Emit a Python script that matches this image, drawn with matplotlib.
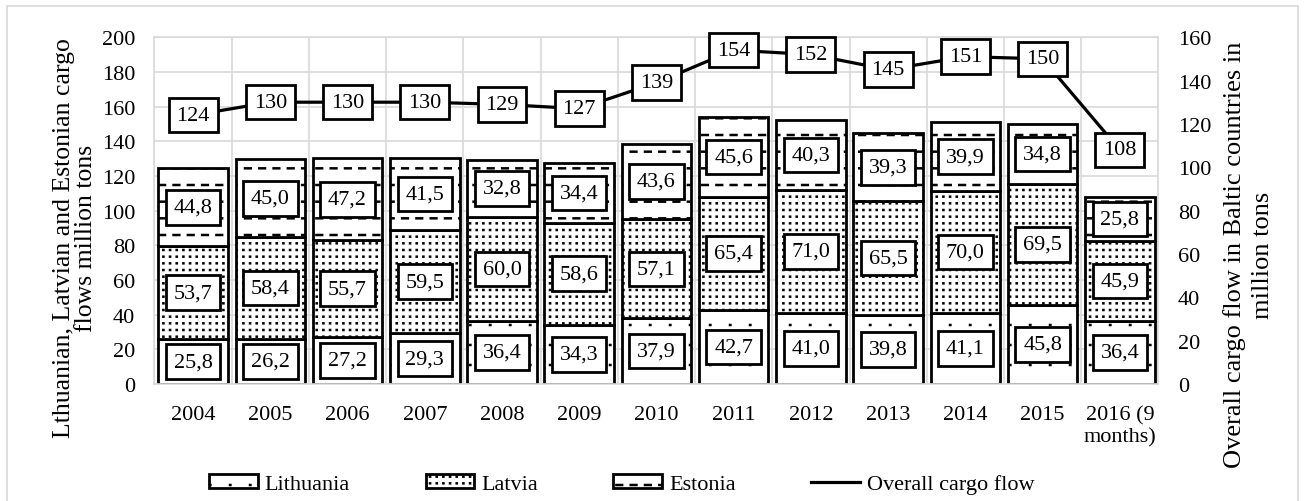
import numpy as np
import matplotlib
matplotlib.use('Agg')
import matplotlib.pyplot as plt
from matplotlib import hatch as mhatch
from matplotlib.path import Path
from matplotlib.patches import Rectangle

years = ['2004', '2005', '2006', '2007', '2008', '2009', '2010',
         '2011', '2012', '2013', '2014', '2015', '2016 (9\nmonths)']
lithuania = [25.8, 26.2, 27.2, 29.3, 36.4, 34.3, 37.9, 42.7, 41.0, 39.8, 41.1, 45.8, 36.4]
latvia = [53.7, 58.4, 55.7, 59.5, 60.0, 58.6, 57.1, 65.4, 71.0, 65.5, 70.0, 69.5, 45.9]
estonia = [44.8, 45.0, 47.2, 41.5, 32.8, 34.4, 43.6, 45.6, 40.3, 39.3, 39.9, 34.8, 25.8]
overall = [124, 130, 130, 130, 129, 127, 139, 154, 152, 145, 151, 150, 108]


# Excel-like fills: short strokes on a grid (one tile = one inch)
class GridHatch(mhatch.HatchPatternBase):
    char = None
    rows = cols = 1
    span = (0.5, 0.52)
    phase = 0.5

    def __init__(self, hatch, density):
        self.num_vertices = 2 * self.rows * self.cols if self.char in hatch else 0

    def set_vertices_and_codes(self, vertices, codes):
        r, c = np.meshgrid(np.arange(self.rows), np.arange(self.cols), indexing='ij')
        y = (r.ravel() + self.phase) / self.rows
        c = c.ravel()
        vertices[0::2, 0] = (c + self.span[0]) / self.cols
        vertices[1::2, 0] = (c + self.span[1]) / self.cols
        vertices[0::2, 1] = y
        vertices[1::2, 1] = y
        codes[0::2] = Path.MOVETO
        codes[1::2] = Path.LINETO


class SparseDots(GridHatch):
    char, rows, cols, phase = 'o', 5, 5, 0.75


class DenseDots(GridHatch):
    char, rows, cols = 'O', 15, 15


class Dashes(GridHatch):
    char, rows, cols, span, phase = '*', 6, 7, (0.15, 0.55), 0.9


mhatch._hatch_types[:] = [SparseDots, DenseDots, Dashes]

plt.rcParams['font.family'] = ['Liberation Serif', 'DejaVu Serif']
plt.rcParams['hatch.linewidth'] = 1.8
plt.rcParams['hatch.color'] = 'black'

grey = '#d9d9d9'


def fmt(v):
    return f'{v:.1f}'.replace('.', ',')


fig = plt.figure(figsize=(13.09, 5.02), dpi=100)
ax = fig.add_axes([0.118, 0.233, 0.767, 0.691])
x = np.arange(len(years))

box = dict(boxstyle='square,pad=0.35', facecolor='white', edgecolor='black', linewidth=2)
bottoms = np.zeros(len(years))
for vals, hatch, name in zip([lithuania, latvia, estonia], ['o', 'O', '*'],
                             ['Lithuania', 'Latvia', 'Estonia']):
    bars = ax.bar(x, vals, 0.9, bottom=bottoms, color='white', edgecolor='black',
                  linewidth=2, hatch=hatch, label=name)
    ax.bar_label(bars, labels=[fmt(v) for v in vals], label_type='center',
                 fontsize=16, bbox=box)
    bottoms += np.array(vals)

ax.set_xlim(-0.5, len(years) - 0.5)
ax.set_ylim(0, 200)
ax.set_yticks(np.arange(0, 201, 20))
ax.set_xticks(x)
ax.set_xticklabels(years, fontsize=16, linespacing=1.2)
ax.set_xticks(np.arange(-0.5, len(years), 1), minor=True)
ax.tick_params(which='both', length=0)
ax.tick_params(axis='y', labelsize=16, pad=14)
ax.tick_params(axis='x', pad=15)
ax.set_axisbelow(True)
ax.yaxis.grid(True, color=grey, lw=1.2)
ax.xaxis.grid(True, which='minor', color=grey, lw=1.2)
for s in ax.spines.values():
    s.set_color(grey)
    s.set_linewidth(1.2)
ax.set_ylabel('Lthuanian, Latvian and Estonian cargo\nflows million tons', fontsize=18.5,
              linespacing=1.0)
ax.yaxis.set_label_coords(-0.057, 0.424)

ax2 = ax.twinx()
ax2.plot(x, overall, color='black', lw=2.3, label='Overall cargo flow')
for xi, v in zip(x, overall):
    ax2.text(xi, v, str(v), ha='center', va='center', fontsize=16, bbox=box, zorder=5)
ax2.set_ylim(0, 160)
ax2.set_yticks(np.arange(0, 161, 20))
ax2.tick_params(length=0, labelsize=16, pad=14)
for s in ax2.spines.values():
    s.set_visible(False)
ax2.set_ylabel('Overall cargo flow in Baltic countries in\nmillion tons', fontsize=19,
               linespacing=1.35)
ax2.yaxis.set_label_coords(1.064, 0.374)

h1, l1 = ax.get_legend_handles_labels()
h2, l2 = ax2.get_legend_handles_labels()
fig.legend(h1 + h2, l1 + l2, loc='center', bbox_to_anchor=(0.475, 0.034), ncol=4,
           frameon=False, fontsize=16, handlelength=2.2, handleheight=0.54,
           handletextpad=0.3, columnspacing=3.4)

fig.patches.append(Rectangle((0.0053, -0.05), 0.9863, 1.036, transform=fig.transFigure,
                             fill=False, edgecolor=grey, lw=1.2))

fig.savefig('out.png', dpi=100)
